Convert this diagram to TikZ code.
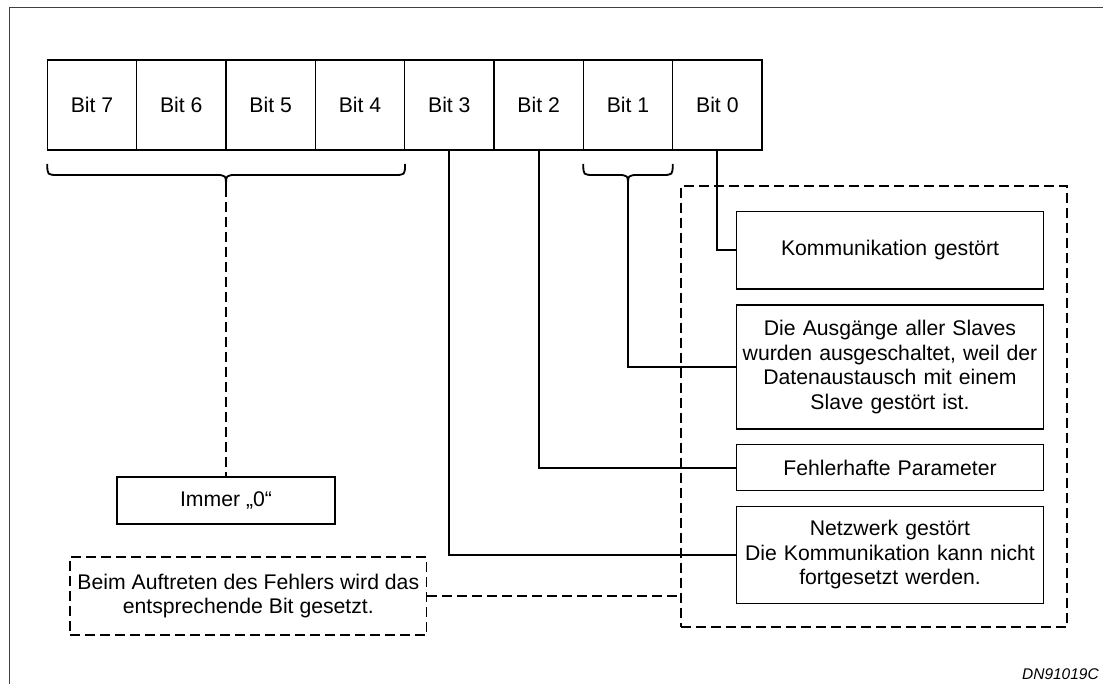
\documentclass[tikz,border=0pt]{standalone}
\usepackage{fontspec}
\setmainfont{Liberation Sans}
\begin{document}
\begin{tikzpicture}[x=1pt,y=-1pt,
  txt/.style={font=\fontsize{21.2}{24.5}\selectfont},
  bitbox/.style={draw, line width=1.3pt, txt, inner sep=0pt,
    minimum width=89.34pt, minimum height=90pt},
  msgbox/.style={draw, line width=1.3pt, txt, inner sep=0pt, align=center,
    text width=300pt, minimum width=306.6pt},
  plainbox/.style={draw, line width=1.3pt, txt, inner sep=0pt, align=center},
  groupbox/.style={draw, line width=2pt, dash pattern=on 10pt off 5pt, inner sep=0pt},
  notebox/.style={draw, line width=1.5pt, dash pattern=on 10pt off 5pt, txt,
    inner sep=0pt, align=center},
  link/.style={line width=1.8pt},
  dashlink/.style={line width=1.3pt, dash pattern=on 10pt off 5pt},
  bracepath/.style={line width=1.8pt}]
\useasboundingbox (0,0) rectangle (1103,684);

% sheet frame (top and left edges)
\draw[line width=1.3pt, black!75] (9.3,684) -- (9.3,7.3) -- (1103,7.3);

% status byte
\foreach \i in {7,...,0}
  \node[bitbox] (b\i) at ({47.3+44.67+(7-\i)*89.34},105) {Bit \i};

% group of error messages
\node[groupbox, minimum width=386pt, minimum height=441.3pt] (grp) at (873.7,406.65) {};

\node[msgbox, minimum height=77.3pt] (kom) at (890,250.35) {Kommunikation gestört};
\node[msgbox, minimum height=124pt] (aus) at (890,367)
  {Die Ausgänge aller Slaves\\wurden ausgeschaltet, weil der\\Datenaustausch mit einem\\Slave gestört ist.};
\node[msgbox, minimum height=46pt] (par) at (890,467.7) {Fehlerhafte Parameter};
\node[msgbox, minimum height=96.6pt] (net) at (890,555)
  {Netzwerk gestört\\Die Kommunikation kann nicht\\fortgesetzt werden.};

\node[plainbox, minimum width=218pt, minimum height=47pt] (imm) at (226,500.5) {Immer „0“};
\node[notebox, minimum width=356.7pt, minimum height=78pt] (beim) at (248.3,596)
  {Beim Auftreten des Fehlers wird das\\entsprechende Bit gesetzt.};

\node[anchor=base east, inner sep=0pt, font=\itshape\fontsize{15.5}{18}\selectfont]
  (code) at (1099,679) {DN91019C};

% brace over bits 7 to 4
\coordinate (tipA) at (226,187);
\draw[bracepath] (47.3,164) .. controls (47.3,175) .. (58.3,175) -- (215,175)
  .. controls (226,175) .. (tipA) .. controls (226,175) .. (237,175)
  -- (394,175) .. controls (405,175) .. (405,164);

% brace under bit 1
\coordinate (tipB) at (628,187);
\draw[bracepath] (583.3,164) .. controls (583.3,175) .. (594.3,175) -- (617,175)
  .. controls (628,175) .. (tipB) .. controls (628,175) .. (639,175)
  -- (661.7,175) .. controls (672.7,175) .. (672.7,164);

% connectors
\draw[dashlink] (tipA) -- (imm.north);
\draw[link] (b0.south) |- (kom.west);
\draw[link] (tipB) |- (aus.west);
\draw[link] (b2.south) |- (par.west);
\draw[link] (b3.south) |- (net.west);
\draw[dashlink] (beim.east) -- (beim.east -| grp.west);
\end{tikzpicture}
\end{document}
